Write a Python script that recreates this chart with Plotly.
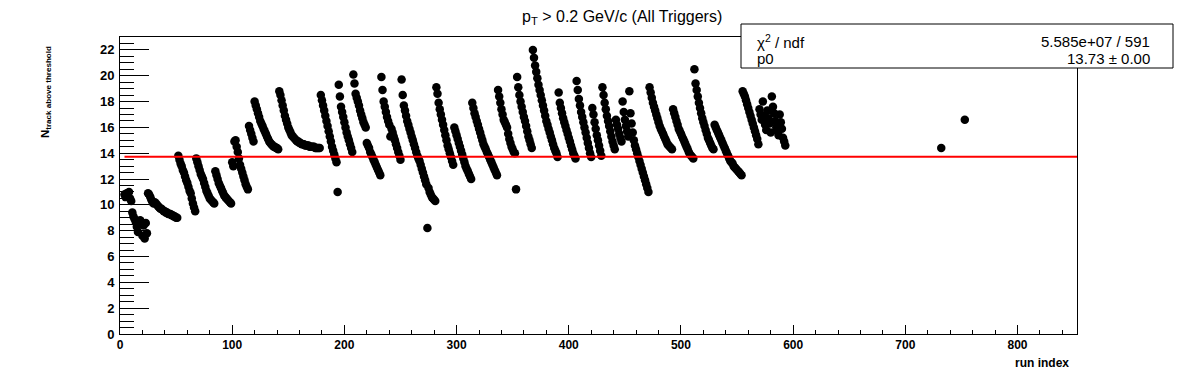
import plotly.graph_objects as go

# ---- data ----
# N_track above threshold for consecutive runs, starting at run index 4
n_track = [
    10.8, 10.6, 10.9, 10.7, 11.0, 10.5, 10.3,
    9.4, 9.1, 8.9, 8.7, 8.3, 7.9, 8.6, 8.8, 8.5, 7.6, 8.4, 7.4, 8.6, 7.8,
    10.9, 10.8, 10.6, 10.4, 10.2, 10.1, 10.2, 10.1, 10.0, 9.9, 9.8, 9.7, 9.7, 9.6,
    9.5, 9.5, 9.4, 9.4, 9.3, 9.3, 9.3, 9.2, 9.2, 9.1, 9.1, 9.0, 9.0,
    13.8, 13.5, 13.2, 13.0, 12.7, 12.5, 12.2, 11.9, 11.7, 11.4, 11.1, 10.9, 10.5, 10.1, 9.8, 9.5,
    13.6, 13.3, 13.0, 12.7, 12.4, 12.2, 12.0, 11.7, 11.4, 11.1, 10.9, 10.7, 10.5, 10.4, 10.3, 10.2, 10.1,
    12.6, 12.3, 12.0, 11.7, 11.5, 11.3, 11.1, 10.9, 10.7, 10.6, 10.5, 10.4, 10.3, 10.2, 10.1,
    13.3, 13.0, 14.9, 15.0, 14.5, 14.1, 13.6, 13.1, 12.8, 12.5, 12.2, 11.9, 11.6, 11.4, 11.2,
    16.1, 15.8, 15.5, 15.2, 14.9,
    18.0, 17.7, 17.4, 17.1, 16.8, 16.5, 16.3, 16.1, 15.9, 15.7, 15.5, 15.3, 15.1, 14.9,
    14.8, 14.7, 14.6, 14.5, 14.5, 14.4, 14.4, 14.3,
    18.8, 18.5, 18.1, 17.7, 17.3, 16.9, 16.6, 16.3, 16.0, 15.8, 15.6, 15.4, 15.3, 15.2,
    15.1, 15.0, 14.9, 14.9, 14.8, 14.8, 14.7, 14.7, 14.7, 14.6, 14.6, 14.6, 14.6, 14.5,
    14.5, 14.5, 14.5, 14.5, 14.4, 14.4, 14.4, 14.4, 14.4,
    18.5, 18.1, 17.7, 17.3, 16.9, 16.5, 16.1, 15.7, 15.3, 14.9, 14.5, 14.2, 13.9, 13.6, 13.3,
    11.0,
    19.3, 18.4, 17.6, 17.2, 16.8, 16.4, 16.0, 15.6, 15.3, 15.0, 14.7, 14.4, 14.1,
    20.1, 19.4, 18.6, 18.3, 18.0, 17.7, 17.3, 17.0, 16.7, 16.4, 16.2, 16.0,
    14.8, 14.6, 14.4, 14.1, 13.9, 13.7, 13.5, 13.3, 13.1, 12.9, 12.7, 12.5, 12.3,
    19.9, 18.9, 18.0, 17.6, 17.2, 16.8, 16.5, 16.2, 15.3, 15.9, 15.6, 15.3, 15.0, 14.7,
    14.4, 14.1, 13.8, 13.5,
    19.7, 18.5, 17.7, 17.3, 16.9, 16.5, 16.2, 15.9, 15.6, 15.3, 15.0, 14.7, 14.4, 14.1,
    13.8, 13.6, 13.4, 13.1, 12.8, 12.5, 12.2, 11.9, 11.6, 8.2, 11.3, 11.0, 10.8, 10.6,
    10.5, 10.4, 10.3,
    19.1, 18.6, 17.9, 17.4, 17.0, 16.6, 16.2, 15.8, 15.4, 15.0, 14.6, 14.3, 14.0, 13.7, 13.4, 13.1,
    16.0, 15.7, 15.4, 15.1, 14.8, 14.5, 14.2, 13.9, 13.6, 13.3, 13.0, 12.8, 12.6, 12.4, 12.2, 12.0,
    17.9, 17.5, 17.1, 16.8, 16.5, 16.2, 15.9, 15.6, 15.3, 15.0, 14.7, 14.5, 14.3, 14.1,
    13.9, 13.7, 13.5, 13.3, 13.1, 12.9, 12.7, 12.5, 12.3,
    18.9, 18.4, 17.9, 17.4, 17.0, 16.6, 16.4, 16.2, 16.0, 15.5, 15.1, 14.8, 14.5, 14.3, 14.1, 14.0,
    11.2,
    19.9, 19.1, 18.5, 18.0, 17.6, 17.2, 16.8, 16.5, 16.1, 15.7, 15.3, 15.0, 14.7, 14.4,
    22.0, 21.4, 20.8, 20.3, 19.8, 19.3, 18.9, 18.5, 18.1, 17.7, 17.3, 16.9, 16.5, 16.2,
    15.9, 15.6, 15.3, 15.0, 14.7, 14.4, 14.2, 14.0, 13.7,
    18.7, 17.9, 17.5, 17.1, 16.7, 16.4, 16.1, 15.8, 15.5, 15.2, 14.9, 14.6, 14.3, 14.0, 13.8, 13.6,
    19.6, 18.9, 18.2, 17.7, 17.2, 16.8, 16.4, 16.0, 15.6, 15.2, 14.8, 14.4, 14.0, 13.7,
    17.5, 17.0, 16.4, 15.9, 15.4, 15.0, 14.6, 14.2, 13.8,
    19.1, 18.5, 17.9, 17.4, 16.9, 16.5, 16.1, 15.7, 15.3, 14.9, 14.6, 14.3,
    16.6, 16.2, 15.9, 15.5, 15.2, 14.9, 18.0, 17.2, 16.6, 16.1, 15.7, 15.3, 18.8, 17.1, 16.3, 15.6,
    15.0, 14.6, 14.3, 14.0, 13.7, 13.4, 13.1, 12.8, 12.5, 12.2, 11.9, 11.6, 11.3, 11.0,
    19.1, 18.7, 18.3, 17.9, 17.6, 17.3, 17.0, 16.7, 16.4, 16.1, 15.9, 15.7, 15.5, 15.3,
    15.1, 14.9, 14.7, 14.6, 14.5, 14.4, 14.3,
    17.4, 17.1, 16.8, 16.5, 16.2, 15.9, 15.7, 15.5, 15.3, 15.1, 14.9, 14.7, 14.5, 14.3,
    14.1, 13.9, 13.8, 13.7, 13.6,
    20.5, 19.4, 18.9, 18.4, 17.9, 17.5, 17.1, 16.7, 16.4, 16.1, 15.8, 15.5, 15.2, 15.0,
    14.8, 14.6, 14.4, 14.3,
    16.2, 16.0, 15.8, 15.6, 15.4, 15.2, 15.0, 14.8, 14.6, 14.4, 14.2, 14.0, 13.8, 13.6,
    13.4, 13.3, 13.2, 13.0, 12.9, 12.8, 12.7, 12.6, 12.5, 12.4, 12.3,
    18.8, 18.6, 18.4, 18.1, 17.8, 17.5, 17.2, 16.9, 16.6, 16.3, 16.0, 15.7, 15.4, 15.1, 14.7,
    17.4, 17.0, 16.6, 18.0, 16.9, 16.2, 15.8, 17.3, 16.7, 16.3, 15.6, 18.4, 17.6, 17.1,
    16.5, 16.0, 15.7, 15.4, 17.0, 16.4, 15.9, 15.2, 14.9, 14.6,
]
first_run = 4
run_index = list(range(first_run, first_run + len(n_track)))

# two isolated late runs
late_runs = [732, 753]
late_n_track = [14.4, 16.6]

# fit: pol0
fit_p0 = 13.73
fit_range = [4, 853]
chi2_text = "5.585e+07 / 591"
p0_text = "13.73 \u00b1 0.00"

x_range = [0, 853]
y_range = [0, 23]

FONT = "Liberation Sans"

# the page body has an 8 px margin: figure starts at (8, 8)
OFF = 8
W, H = 1196 - OFF, 372 - OFF
# plot frame in window pixels
L, R, T, B = 120, 1077, 37, 334

fig = go.Figure()
fig.add_trace(go.Scatter(
    x=run_index + late_runs, y=n_track + late_n_track, mode="markers",
    marker=dict(color="black", size=8.5, symbol="circle", line=dict(width=0)),
    showlegend=False, hoverinfo="x+y"))
fig.add_trace(go.Scatter(
    x=fit_range, y=[fit_p0, fit_p0], mode="lines",
    line=dict(color="#ff0000", width=2), showlegend=False, hoverinfo="skip"))

fig.update_layout(
    width=W, height=H,
    margin=dict(l=L - OFF, r=1196 - R, t=T - OFF, b=372 - B, pad=0),
    paper_bgcolor="white", plot_bgcolor="white",
    font=dict(family=FONT, color="black"),
    xaxis=dict(
        range=x_range, showgrid=False, zeroline=False,
        showline=True, linecolor="black", linewidth=1, mirror=True,
        ticks="inside", ticklen=9, tickcolor="black", tickwidth=1,
        dtick=100, tick0=0,
        minor=dict(ticks="inside", ticklen=4.5, dtick=20, tickcolor="black", showgrid=False),
        tickfont=dict(family=FONT, size=12, weight="bold", color="black"),
    ),
    yaxis=dict(
        range=y_range, showgrid=False, zeroline=False,
        showline=True, linecolor="black", linewidth=1, mirror=True,
        ticks="inside", ticklen=29, tickcolor="black", tickwidth=1,
        dtick=2, tick0=0,
        minor=dict(ticks="inside", ticklen=14, dtick=0.5, tickcolor="black", showgrid=False),
        tickfont=dict(family=FONT, size=13, weight="bold", color="black"),
        ticklabelstandoff=2,
    ),
)


def px(xp):
    return (xp - L) / (R - L)


def py(yp):
    return (B - yp) / (B - T)


annotations = [
    dict(text="p<sub>T</sub> > 0.2 GeV/c (All Triggers)", x=px(622), y=py(17),
         xanchor="center", yanchor="middle", font=dict(size=16), borderpad=0),
    dict(text="<b>N<sub>track above threshold</sub></b>", x=px(46), y=py(92), textangle=-90,
         xanchor="center", yanchor="middle", font=dict(size=11.5)),
    dict(text="<b>run index</b>", x=px(1071), y=py(363), xanchor="right", yanchor="middle",
         font=dict(size=12)),
    dict(text="\u03c7<sup>2</sup> / ndf", x=px(755), y=py(41), xanchor="left", yanchor="middle",
         font=dict(size=15)),
    dict(text=chi2_text, x=px(1152), y=py(41), xanchor="right", yanchor="middle",
         font=dict(size=15)),
    dict(text="p0", x=px(755), y=py(58), xanchor="left", yanchor="middle", font=dict(size=15)),
    dict(text=p0_text, x=px(1152), y=py(58), xanchor="right", yanchor="middle",
         font=dict(size=15)),
]
for a in annotations:
    a.update(xref="paper", yref="paper", showarrow=False)
fig.update_layout(annotations=annotations)

fig.add_shape(type="rect", xref="paper", yref="paper",
              x0=px(741), x1=px(1173), y0=py(68), y1=py(24),
              line=dict(color="black", width=1), fillcolor="white", layer="above")

fig.write_html("out.html")
